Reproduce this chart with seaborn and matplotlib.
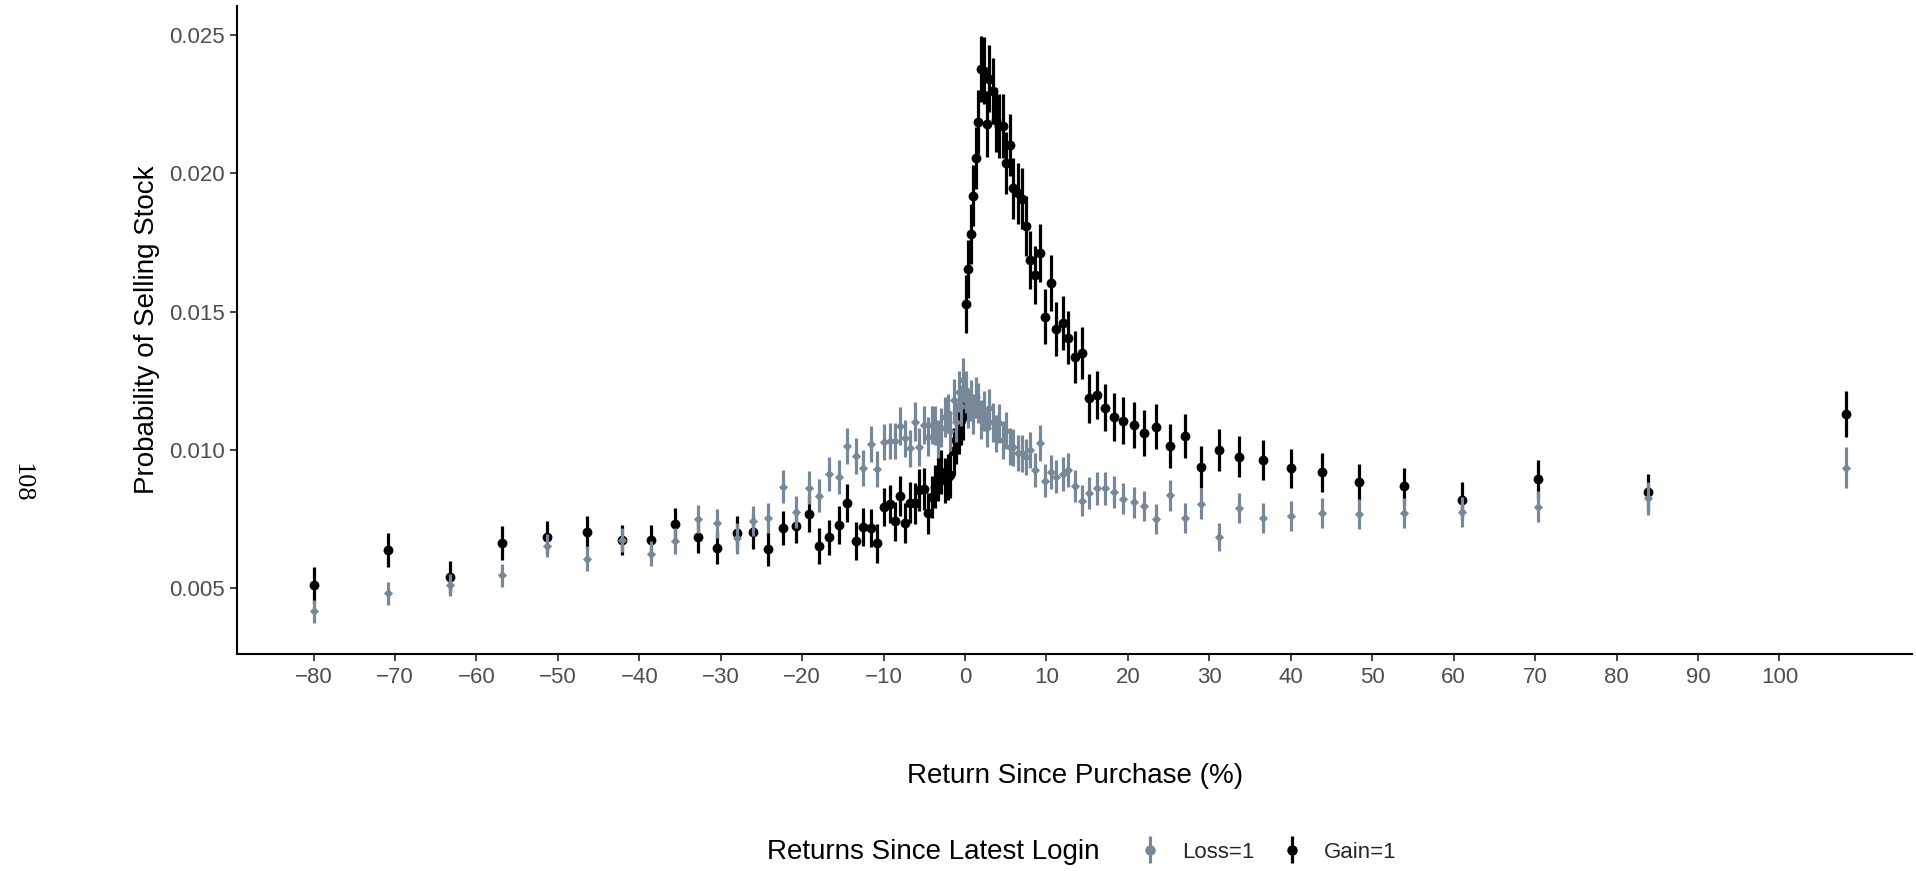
import numpy as np
import pandas as pd
import matplotlib
matplotlib.use("Agg")
import matplotlib.pyplot as plt
import seaborn as sns
from matplotlib.container import ErrorbarContainer
from matplotlib.legend_handler import HandlerErrorbar

# -----------------------------------------
# DATA
# -----------------------------------------
ret = [
    -80.0, -70.8, -63.3, -56.9, -51.3, -46.4, -42.1, -38.6, -35.6, -32.8,
    -30.4, -28.0, -26.1, -24.2, -22.4, -20.8, -19.2, -17.9, -16.7, -15.5,
    -14.5, -13.4, -12.5, -11.6, -10.8, -10.0, -9.2, -8.6, -8.0,
    -7.4, -6.8, -6.2, -5.6, -5.1, -4.6, -4.1, -3.7, -3.3, -2.9,
    -2.5, -2.1, -1.8, -1.4, -1.1, -0.8, -0.5, -0.2,
    0.0,
    0.15, 0.4, 0.7, 1.0, 1.3, 1.6, 1.9, 2.3, 2.65, 3.0,
    3.45, 3.75, 4.2, 4.6, 5.0, 5.5, 5.9, 6.5, 7.0, 7.45,
    8.0, 8.6, 9.2, 9.8, 10.5, 11.2, 12.0, 12.7, 13.5, 14.4,
    15.2, 16.2, 17.2, 18.3, 19.4, 20.7, 22.0, 23.5, 25.2, 27.0,
    29.0, 31.2, 33.7, 36.6, 40.0, 43.8, 48.4, 53.9, 61.0, 70.3,
    83.9, 108.2,
]

gain_prob = [
    0.00512, 0.00638, 0.00541, 0.00664, 0.00685, 0.00704, 0.00675, 0.00675, 0.00731, 0.00684,
    0.00645, 0.00701, 0.00703, 0.00642, 0.00719, 0.00726, 0.00768, 0.00654, 0.00684, 0.00730,
    0.00809, 0.00671, 0.00723, 0.00718, 0.00663, 0.00794, 0.00805, 0.00743, 0.00834,
    0.00737, 0.00809, 0.00807, 0.00855, 0.00858, 0.00771, 0.00830, 0.00867, 0.00895, 0.00921,
    0.00890, 0.00903, 0.00910, 0.00995, 0.01036, 0.01072, 0.01109, 0.01125,
    0.01169,
    0.01527, 0.01655, 0.01780, 0.01918, 0.02056, 0.02186, 0.02377, 0.02371, 0.02178, 0.02342,
    0.02297, 0.02192, 0.02170, 0.02171, 0.02036, 0.02102, 0.01946, 0.01928, 0.01908, 0.01808,
    0.01686, 0.01632, 0.01713, 0.01482, 0.01603, 0.01438, 0.01460, 0.01406, 0.01335, 0.01351,
    0.01187, 0.01199, 0.01153, 0.01120, 0.01106, 0.01090, 0.01061, 0.01084, 0.01014, 0.01050,
    0.00940, 0.01000, 0.00976, 0.00964, 0.00934, 0.00919, 0.00883, 0.00870, 0.00819, 0.00895,
    0.00849, 0.01130,
]

gain_err = [
    0.00064, 0.00062, 0.00058, 0.00060, 0.00058, 0.00058, 0.00055, 0.00055, 0.00058, 0.00055,
    0.00058, 0.00060, 0.00062, 0.00062, 0.00062, 0.00062, 0.00065, 0.00065, 0.00065, 0.00068,
    0.00068, 0.00068, 0.00068, 0.00068, 0.00070, 0.00070, 0.00070, 0.00070, 0.00072,
    0.00072, 0.00074, 0.00074, 0.00076, 0.00076, 0.00074, 0.00076, 0.00078, 0.00080, 0.00080,
    0.00080, 0.00082, 0.00082, 0.00086, 0.00088, 0.00088, 0.00090, 0.00090,
    0.00060,
    0.00105, 0.00105, 0.00108, 0.00110, 0.00112, 0.00115, 0.00120, 0.00120, 0.00118, 0.00120,
    0.00118, 0.00115, 0.00115, 0.00115, 0.00112, 0.00112, 0.00110, 0.00110, 0.00110, 0.00108,
    0.00105, 0.00105, 0.00105, 0.00100, 0.00100, 0.00098, 0.00098, 0.00096, 0.00094, 0.00094,
    0.00088, 0.00088, 0.00086, 0.00086, 0.00084, 0.00084, 0.00082, 0.00082, 0.00080, 0.00080,
    0.00076, 0.00076, 0.00074, 0.00072, 0.00070, 0.00070, 0.00068, 0.00066, 0.00064, 0.00068,
    0.00066, 0.00082,
]

loss_prob = [
    0.00417, 0.00482, 0.00511, 0.00548, 0.00654, 0.00608, 0.00675, 0.00625, 0.00671, 0.00750,
    0.00735, 0.00681, 0.00743, 0.00754, 0.00867, 0.00777, 0.00864, 0.00835, 0.00913, 0.00903,
    0.01015, 0.00978, 0.00935, 0.01022, 0.00931, 0.01029, 0.01032, 0.01032, 0.01087,
    0.01042, 0.01006, 0.01102, 0.01010, 0.01090, 0.01048, 0.01090, 0.01088, 0.01040, 0.01080,
    0.01120, 0.01132, 0.01070, 0.01180, 0.01100, 0.01211, 0.01160, 0.01253,
    0.01220,
    0.01210, 0.01150, 0.01180, 0.01130, 0.01190, 0.01169, 0.01110, 0.01140, 0.01080, 0.01150,
    0.01100, 0.01060, 0.01096, 0.01036, 0.01070, 0.01012, 0.01010, 0.00990, 0.00988, 0.00975,
    0.01000, 0.00928, 0.01024, 0.00889, 0.00921, 0.00903, 0.00913, 0.00928, 0.00871, 0.00817,
    0.00846, 0.00861, 0.00861, 0.00847, 0.00824, 0.00811, 0.00797, 0.00750, 0.00837, 0.00755,
    0.00806, 0.00686, 0.00791, 0.00753, 0.00761, 0.00773, 0.00769, 0.00773, 0.00777, 0.00795,
    0.00825, 0.00936,
]

loss_err = [
    0.00043, 0.00042, 0.00040, 0.00042, 0.00042, 0.00045, 0.00045, 0.00045, 0.00048, 0.00050,
    0.00052, 0.00055, 0.00055, 0.00055, 0.00060, 0.00058, 0.00060, 0.00060, 0.00062, 0.00062,
    0.00065, 0.00065, 0.00065, 0.00066, 0.00066, 0.00066, 0.00066, 0.00066, 0.00068,
    0.00068, 0.00068, 0.00070, 0.00068, 0.00070, 0.00070, 0.00070, 0.00070, 0.00070, 0.00070,
    0.00072, 0.00072, 0.00072, 0.00075, 0.00072, 0.00075, 0.00075, 0.00078,
    0.00050,
    0.00075, 0.00072, 0.00074, 0.00072, 0.00074, 0.00072, 0.00070, 0.00072, 0.00070, 0.00072,
    0.00070, 0.00068, 0.00070, 0.00068, 0.00068, 0.00066, 0.00066, 0.00066, 0.00066, 0.00065,
    0.00065, 0.00062, 0.00065, 0.00060, 0.00062, 0.00060, 0.00060, 0.00062, 0.00058, 0.00056,
    0.00058, 0.00058, 0.00058, 0.00058, 0.00056, 0.00056, 0.00055, 0.00054, 0.00056, 0.00054,
    0.00055, 0.00050, 0.00055, 0.00054, 0.00054, 0.00055, 0.00055, 0.00055, 0.00055, 0.00056,
    0.00058, 0.00074,
]

x_ticks = list(range(-80, 101, 10))
y_ticks = [0.005, 0.010, 0.015, 0.020, 0.025]

df = pd.concat([
    pd.DataFrame({"ret": ret, "prob": gain_prob, "err": gain_err, "group": "Gain=1"}),
    pd.DataFrame({"ret": ret, "prob": loss_prob, "err": loss_err, "group": "Loss=1"}),
], ignore_index=True)

# -----------------------------------------
# STYLE
# -----------------------------------------
sns.set_theme(style="ticks")
plt.rcParams["font.family"] = ["Liberation Sans", "DejaVu Sans"]

GRAY = "#778899"
series = [
    ("Gain=1", "black", "o", 50),
    ("Loss=1", GRAY, "D", 22),
]

fig = plt.figure(figsize=(19.16, 8.71), dpi=100)
ax = fig.add_axes([0.1237, 0.2491, 0.8743, 0.744])

for i, (grp, color, marker, size) in enumerate(series):
    sub = df[df["group"] == grp]
    ax.errorbar(sub["ret"], sub["prob"], yerr=sub["err"], fmt="none",
                ecolor=color, elinewidth=2.3, capsize=0, zorder=2 + 2 * i)
    sns.scatterplot(data=sub, x="ret", y="prob", color=color, marker=marker,
                    s=size, linewidth=0, ax=ax, zorder=3 + 2 * i, legend=False)

ax.set_xlim(-89.4, 116.3)
ax.set_ylim(0.00263, 0.02604)
ax.set_xticks(x_ticks)
ax.set_yticks(y_ticks)
ax.set_yticklabels([f"{v:.3f}" for v in y_ticks])

ax.tick_params(axis="both", labelsize=16, labelcolor="#4D4D4D", color="#333333",
               length=5, width=1.3, pad=4)
sns.despine(ax=ax)
for side in ["left", "bottom"]:
    ax.spines[side].set_linewidth(1.5)
    ax.spines[side].set_color("black")

ax.set_xlabel("Return Since Purchase (%)", fontsize=20, color="black")
ax.set_ylabel("Probability of Selling Stock", fontsize=20, color="black")
ax.xaxis.set_label_coords(0.5, (654 - 776) / 648)
ax.xaxis.label.set_verticalalignment("center")
ax.yaxis.set_label_coords((147 - 237) / 1675, 0.5)
ax.yaxis.label.set_verticalalignment("center")

# legend (title placed to the left, ggplot style)
h_loss = ax.errorbar([np.nan], [np.nan], yerr=[np.nan], fmt="o", color=GRAY,
                     ms=6.5, elinewidth=2.3, capsize=0)
h_gain = ax.errorbar([np.nan], [np.nan], yerr=[np.nan], fmt="o", color="black",
                     ms=6.5, elinewidth=2.3, capsize=0)
fig.legend(handles=[h_loss, h_gain], labels=["Loss=1", "Gain=1"],
           loc="center left", bbox_to_anchor=(0.5909, 0.0218), ncol=2,
           frameon=False, fontsize=16, handlelength=0.6, handletextpad=1.14,
           columnspacing=1.4, borderpad=0,
           handler_map={ErrorbarContainer: HandlerErrorbar(xerr_size=0.3, yerr_size=0.6)})
fig.text(933 / 1916, 0.0218, "Returns Since Latest Login", ha="center", va="center",
         fontsize=20, color="black")

# page number in the margin
fig.text(22 / 1916, 1 - 483 / 871, "108", rotation=270, ha="center", va="center",
         fontsize=19, family=["Liberation Serif", "DejaVu Serif"], color="black")

fig.savefig("out.png", dpi=100)
